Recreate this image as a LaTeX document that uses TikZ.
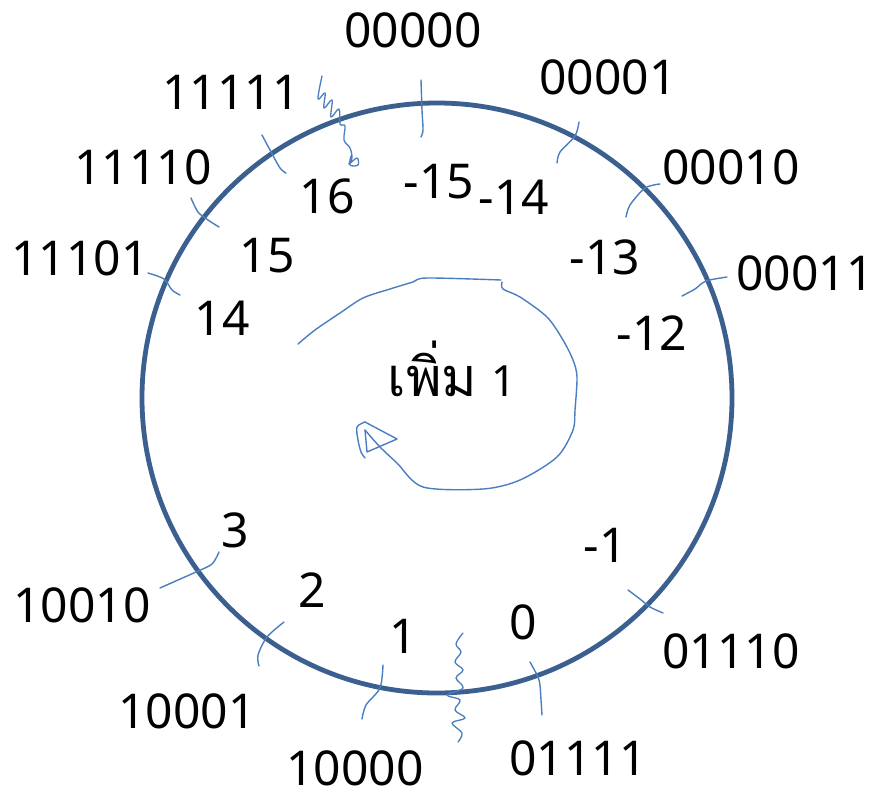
\documentclass[tikz,border=0pt]{standalone}
\usepackage{fontspec}
\setmainfont{Noto Sans}
\newfontfamily\thaifont[Script=Thai]{Loma}
\definecolor{ringblue}{HTML}{3B5F8E}
\definecolor{penblue}{HTML}{4A7EC0}
\begin{document}
\begin{tikzpicture}[x=1pt,y=-1pt,
  lbl/.style={font=\fontsize{48}{56}\selectfont, inner sep=0pt, text=black},
  pen/.style={draw=penblue, line width=1.4pt, line cap=round, line join=round},
  ring/.style={draw=ringblue, line width=4.8pt}]
\useasboundingbox (0,0) rectangle (876,793);
\fill[white] (0,0) rectangle (876,793);
% ring
\coordinate (c) at (437,398);
\draw[ring] (c) circle (295);
% outer binary labels
\node[lbl] (b00000) at (413,30) {00000};
\node[lbl] (b00001) at (608,77) {00001};
\node[lbl] (b00010) at (731,167) {00010};
\node[lbl] (b00011) at (805,273) {00011};
\node[lbl] (b01110) at (731,651) {01110};
\node[lbl] (b01111) at (578,758) {01111};
\node[lbl] (b10000) at (355,768) {10000};
\node[lbl] (b10001) at (187,711) {10001};
\node[lbl] (b10010) at (82,605) {10010};
\node[lbl] (b11101) at (80,258) {11101};
\node[lbl] (b11110) at (143,167) {11110};
\node[lbl] (b11111) at (231,92) {11111};
% inner values
\node[lbl] (vm15) at (439,182) {-15};
\node[lbl] (vm14) at (514,197) {-14};
\node[lbl] (vm13) at (605,257) {-13};
\node[lbl] (vm12) at (652,333) {-12};
\node[lbl] (vm1) at (605,545) {-1};
\node[lbl] (v0) at (523,622) {0};
\node[lbl] (v1) at (403,636) {1};
\node[lbl] (v2) at (312,590) {2};
\node[lbl] (v3) at (235,530) {3};
\node[lbl] (v14) at (222,318) {14};
\node[lbl] (v15) at (267,256) {15};
\node[lbl] (v16) at (327,196) {16};
% centre text
\node[inner sep=0pt, anchor=base] (inc) at (452,396) {{\thaifont\fontsize{54}{60}\selectfont เพิ่ม}\hspace{14pt}{\fontsize{43}{50}\selectfont 1}};
% hand-drawn ticks
\draw[pen] plot[smooth] coordinates {(421,80) (422,110) (423,130) (421,137)};
\draw[pen] plot[smooth] coordinates {(579,122) (575,136) (560,152) (557,163)};
\draw[pen] plot[smooth] coordinates {(660,184) (645,188) (630,205) (626,217)};
\draw[pen] plot[smooth] coordinates {(727,277) (706,281) (695,289) (682,296)};
\draw[pen] plot[smooth] coordinates {(628,590) (640,599) (650,607) (663,613)};
\draw[pen] plot[smooth] coordinates {(530,662) (539,680) (541,700) (542,715)};
\draw[pen] plot[smooth] coordinates {(383,665) (380,688) (366,705) (362,719)};
\draw[pen] plot[smooth] coordinates {(284,622) (267,637) (258,655) (259,666)};
\draw[pen] plot[smooth] coordinates {(219,552) (212,564) (196,572) (178,580) (160,588)};
\draw[pen] plot[smooth] coordinates {(148,273) (164,279) (172,290) (180,295)};
\draw[pen] plot[smooth] coordinates {(191,198) (198,212) (208,220) (219,227)};
\draw[pen] plot[smooth] coordinates {(262,135) (270,150) (280,168) (286,173)};
% scribbles
\draw[pen, line width=1.3pt] plot[smooth, tension=0.6] coordinates {(322,76) (318,99) (325,93) (324,108) (332,100) (331,117) (339,109) (340,124) (345,126) (344,140) (350,148) (352,158) (349,164) (357,158) (358,165) (350,165) (351,156)};
\draw[pen, line width=1.3pt] plot[smooth, tension=0.6] coordinates {(463,633) (456,644) (461,652) (455,662) (463,670) (456,678) (463,688) (447,695) (460,700) (455,710) (465,718) (452,723) (462,733) (458,742)};
% spiral arrow
\draw[pen] plot[smooth] coordinates {(298,344) (315,330) (340,313) (363,298) (390,289) (413,282) (427,278) (501,280)};
\draw[pen] plot[smooth] coordinates {(502,282) (503,289) (520,297) (547,317) (563,340) (573,360) (577,377) (575,410) (573,430) (557,457) (520,480) (483,489) (423,487) (397,463) (380,447) (365,430)};
\draw[pen] (365,422) -- (397,439) -- (367,452) -- (365,430);
\draw[pen] plot[smooth] coordinates {(365,422) (357,427) (358,440) (361,452) (365,458)};
\end{tikzpicture}
\end{document}
